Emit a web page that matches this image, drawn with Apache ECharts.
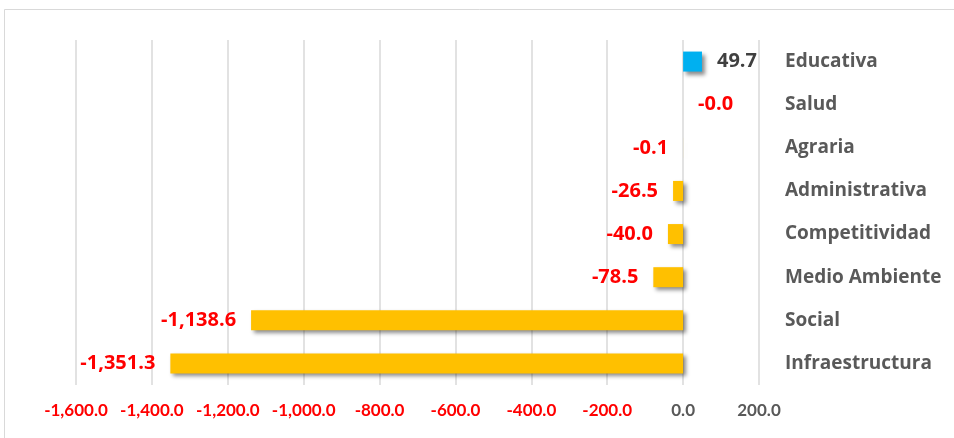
<!DOCTYPE html>
<html>
<head>
<meta charset="utf-8">
<script src="https://cdn.jsdelivr.net/npm/echarts@6/dist/echarts.min.js"></script>
<style>
  html, body { margin: 0; padding: 0; background: #fff; }
  #chart { width: 954px; height: 438px; }
</style>
</head>
<body>
<div id="chart"></div>
<script>
var categories = ["Infraestructura", "Social", "Medio Ambiente", "Competitividad", "Administrativa", "Agraria", "Salud", "Educativa"];
var values = [-1351.3, -1138.6, -78.5, -40.0, -26.5, -0.1, -0.01, 49.7];
var xTicks = { min: -1600, max: 200, step: 200 };

var RED = "#FF0000";
var GRAY = "#595959";
var FONT = "Open Sans";

var fmt = function(v) {
    return v.toLocaleString("en-US", { minimumFractionDigits: 1, maximumFractionDigits: 1 });
};

var barData = values.map(function(v, i) {
    var neg = v < 0;
    var item = {
        value: v,
        itemStyle: { color: neg ? "#FFC000" : "#00B0F0" },
        label: {
            position: neg ? "left" : "right",
            color: neg ? RED : "#404040"
        }
    };
    // Salud label sits on the right of zero in the original
    if (categories[i] == "Salud") {
        item.label.position = "right";
    }
    return item;
});

var chart = echarts.init(document.getElementById("chart"));

var option = {
    animation: false,
    backgroundColor: "#fff",
    graphic: [{
        type: "rect",
        shape: { x: 4.5, y: 9.5, width: 960, height: 440 },
        style: { fill: "none", stroke: "#d9d9d9", lineWidth: 1 },
        silent: true
    }],
    grid: { left: 76, right: 195, top: 40, bottom: 53 },
    xAxis: {
        type: "value",
        min: xTicks.min,
        max: xTicks.max,
        interval: xTicks.step,
        axisLine: { show: false },
        axisTick: { show: false },
        splitLine: { lineStyle: { color: "#d9d9d9", width: 1.5 } },
        axisLabel: {
            margin: 17,
            fontFamily: "Lato",
            fontWeight: "bold",
            fontSize: 17,
            formatter: function(v) { return fmt(v); },
            color: function(v) { return Number(v) < 0 ? RED : GRAY; }
        }
    },
    yAxis: {
        type: "category",
        data: categories,
        position: "right",
        axisLine: { show: false },
        axisTick: { show: false },
        splitLine: { show: false },
        axisLabel: {
            margin: 26,
            align: "left",
            fontFamily: FONT,
            fontWeight: "bold",
            fontSize: 19,
            color: GRAY
        }
    },
    series: [{
        type: "bar",
        data: barData,
        barWidth: 20,
        itemStyle: {
            shadowColor: "rgba(0,0,0,0.45)",
            shadowBlur: 4,
            shadowOffsetX: 3,
            shadowOffsetY: 3
        },
        label: {
            show: true,
            distance: 15,
            fontFamily: FONT,
            fontWeight: "bold",
            fontSize: 20,
            formatter: function(p) { return fmt(p.value); }
        }
    }]
};

chart.setOption(option);
</script>
</body>
</html>
